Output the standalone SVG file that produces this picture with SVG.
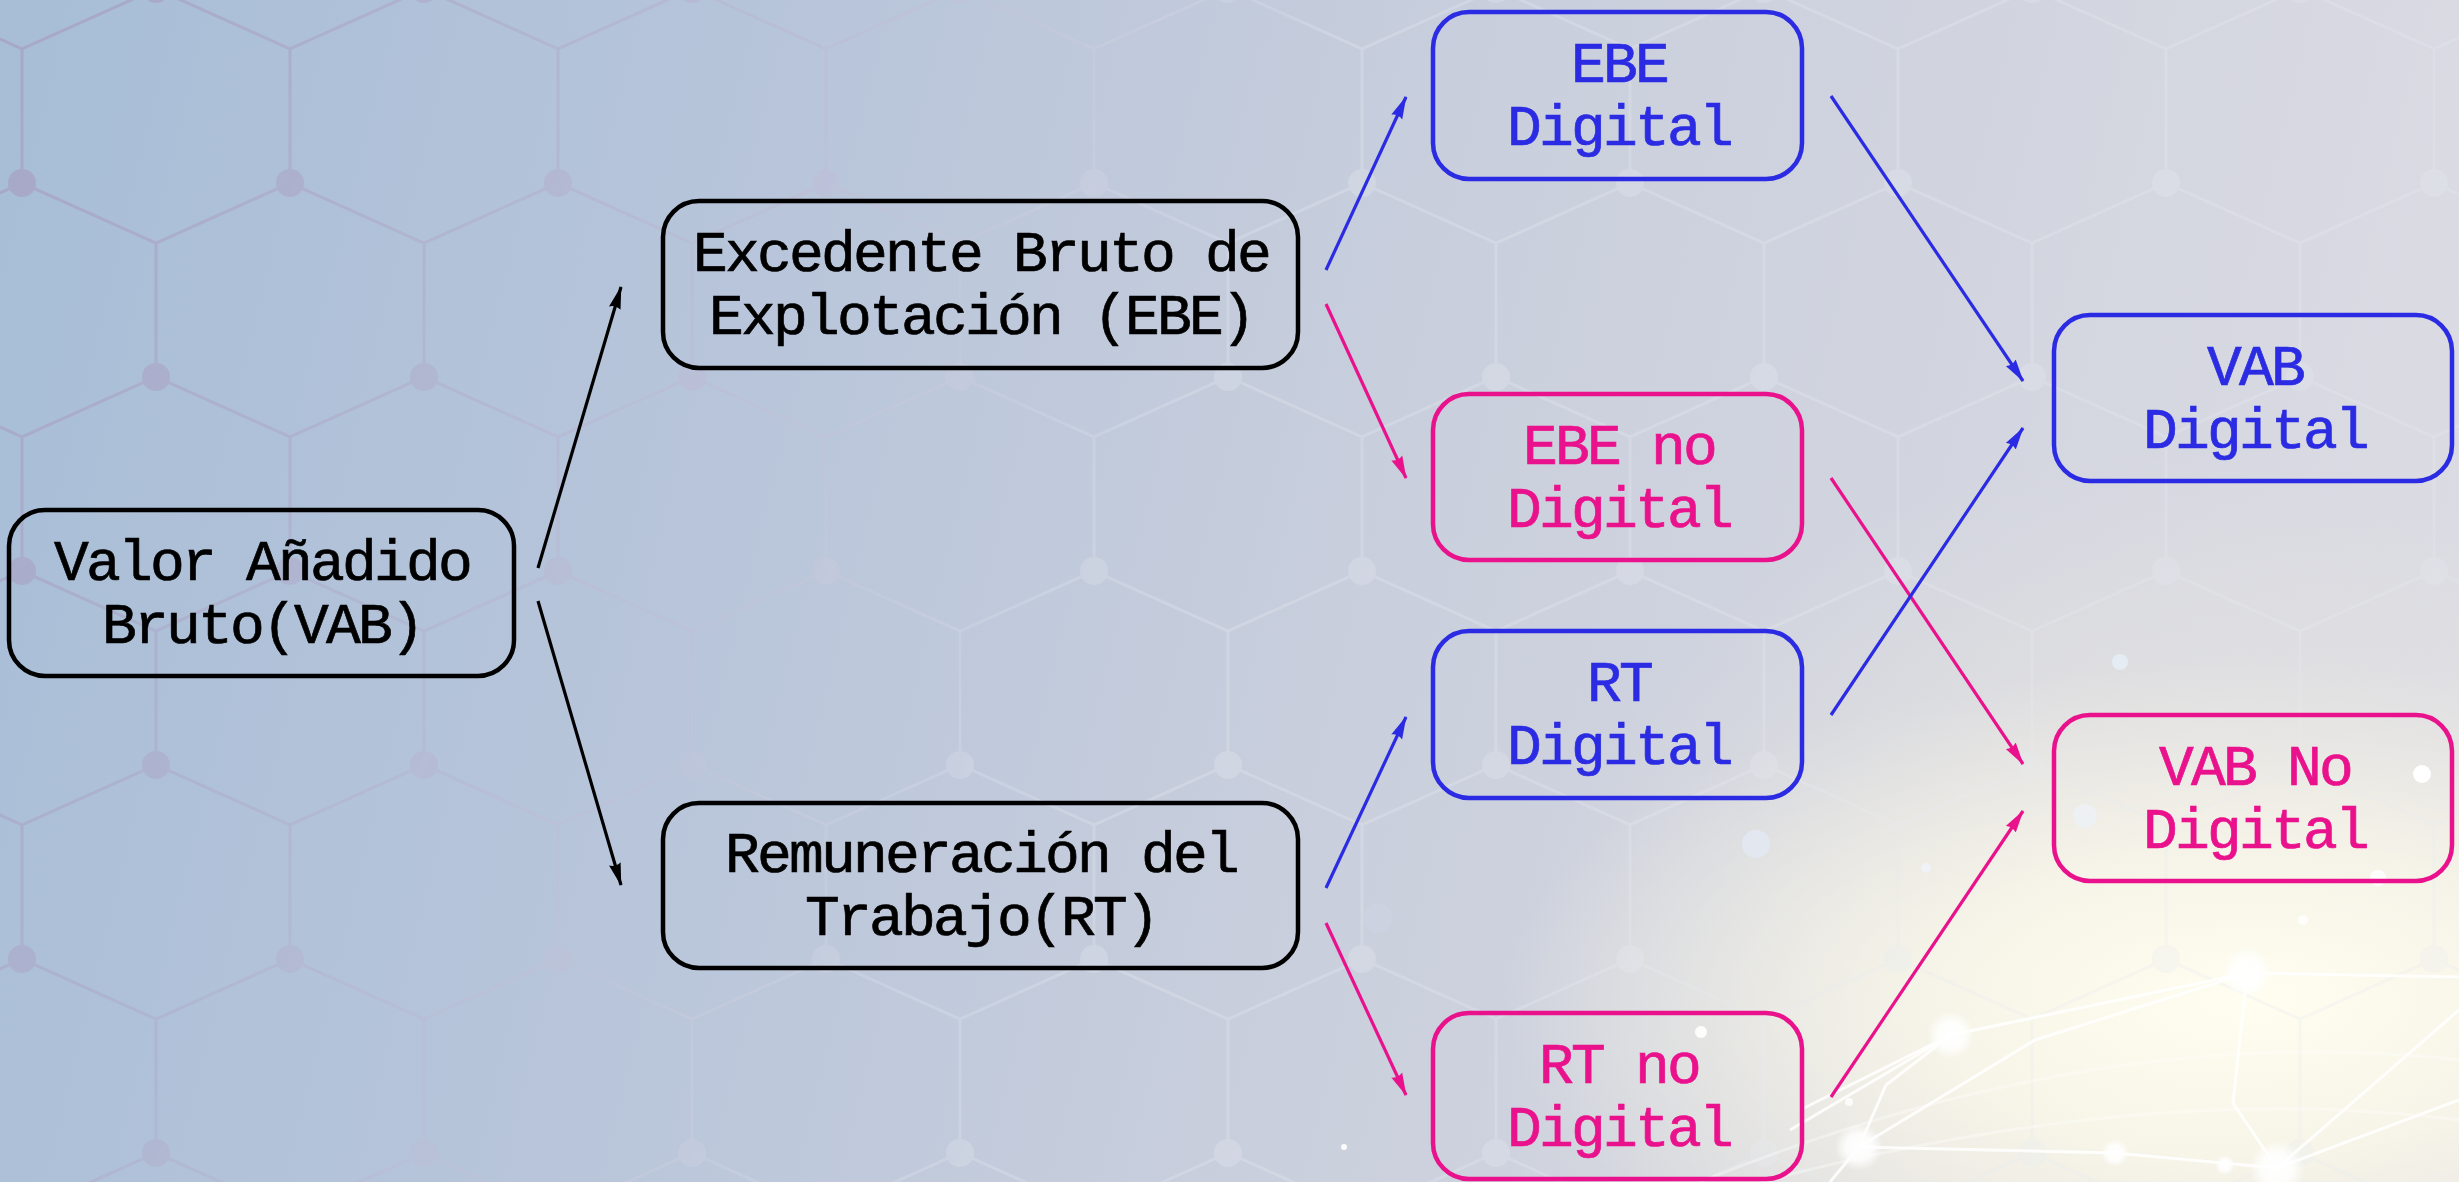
<svg xmlns="http://www.w3.org/2000/svg" width="2459" height="1182" viewBox="0 0 2459 1182">
<defs>
  <linearGradient id="bg" gradientUnits="userSpaceOnUse" x1="0" y1="200" x2="2459" y2="800">
    <stop offset="0" stop-color="#a8bed7"/>
    <stop offset="0.3" stop-color="#b8c5da"/>
    <stop offset="0.6" stop-color="#cbd0dd"/>
    <stop offset="1" stop-color="#dcdce3"/>
  </linearGradient>
  <radialGradient id="glow" gradientUnits="userSpaceOnUse" cx="2250" cy="1000" r="750" gradientTransform="translate(2250 1000) scale(1 0.45) translate(-2250 -1000)">
    <stop offset="0" stop-color="#fffef0" stop-opacity="1"/>
    <stop offset="0.45" stop-color="#fbf9ea" stop-opacity="0.75"/>
    <stop offset="1" stop-color="#f0eee6" stop-opacity="0"/>
  </radialGradient>
  <radialGradient id="glow2" gradientUnits="userSpaceOnUse" cx="2150" cy="1100" r="650">
    <stop offset="0" stop-color="#f4f0e4" stop-opacity="0.85"/>
    <stop offset="1" stop-color="#f2ede0" stop-opacity="0"/>
  </radialGradient>
  <radialGradient id="dotg">
    <stop offset="0" stop-color="#ffffff" stop-opacity="1"/>
    <stop offset="0.55" stop-color="#ffffff" stop-opacity="0.85"/>
    <stop offset="1" stop-color="#ffffff" stop-opacity="0"/>
  </radialGradient>
  <pattern id="hexP" patternUnits="userSpaceOnUse" x="22" y="183" width="268" height="388">
    <g fill="none" stroke="#a697bd" stroke-width="3">
      <path d="M134,194 V60 M0,0 L134,60 L268,0 M0,388 V254 M268,388 V254 M0,254 L134,194 L268,254"/>
    </g>
    <g fill="#a697bd">
      <circle cx="0" cy="0" r="14"/><circle cx="268" cy="0" r="14"/><circle cx="134" cy="194" r="14"/>
      <circle cx="0" cy="388" r="14"/><circle cx="268" cy="388" r="14"/>
    </g>
  </pattern>
  <pattern id="hexW" patternUnits="userSpaceOnUse" x="22" y="183" width="268" height="388">
    <g fill="none" stroke="#e6eaf2" stroke-width="3">
      <path d="M134,194 V60 M0,0 L134,60 L268,0 M0,388 V254 M268,388 V254 M0,254 L134,194 L268,254"/>
    </g>
    <g fill="#e6eaf2">
      <circle cx="0" cy="0" r="14"/><circle cx="268" cy="0" r="14"/><circle cx="134" cy="194" r="14"/>
      <circle cx="0" cy="388" r="14"/><circle cx="268" cy="388" r="14"/>
    </g>
  </pattern>
  <linearGradient id="mP" gradientUnits="userSpaceOnUse" x1="0" y1="0" x2="1100" y2="500">
    <stop offset="0" stop-color="#fff" stop-opacity="0.6"/>
    <stop offset="1" stop-color="#fff" stop-opacity="0"/>
  </linearGradient>
  <linearGradient id="mW" gradientUnits="userSpaceOnUse" x1="200" y1="0" x2="1300" y2="300">
    <stop offset="0" stop-color="#fff" stop-opacity="0.04"/>
    <stop offset="1" stop-color="#fff" stop-opacity="0.3"/>
  </linearGradient>
  <mask id="maskP"><rect width="2459" height="1182" fill="url(#mP)"/></mask>
  <mask id="maskW"><rect width="2459" height="1182" fill="url(#mW)"/></mask>
  <marker id="arK" viewBox="0 0 23 13" refX="22" refY="6.5" markerWidth="23" markerHeight="13" markerUnits="userSpaceOnUse" orient="auto">
    <path d="M0,0.5 L23,6.5 L0,12.5 Q3.5,6.5 0,0.5 z" fill="#000"/>
  </marker>
  <marker id="arB" viewBox="0 0 23 13" refX="22" refY="6.5" markerWidth="23" markerHeight="13" markerUnits="userSpaceOnUse" orient="auto">
    <path d="M0,0.5 L23,6.5 L0,12.5 Q3.5,6.5 0,0.5 z" fill="#2b2be3"/>
  </marker>
  <marker id="arP" viewBox="0 0 23 13" refX="22" refY="6.5" markerWidth="23" markerHeight="13" markerUnits="userSpaceOnUse" orient="auto">
    <path d="M0,0.5 L23,6.5 L0,12.5 Q3.5,6.5 0,0.5 z" fill="#ea128c"/>
  </marker>
  <style>
    .box{fill:none;stroke-width:4.5}
    .k{stroke:#000}
    .b{stroke:#2b2be3}
    .p{stroke:#ea128c}
    .t{font-family:"Liberation Mono","DejaVu Sans Mono",monospace;font-size:58px;letter-spacing:-2.8px;text-anchor:middle;stroke-width:0.7}
    .tk{fill:#000;stroke:#000}
    .tb{fill:#2b2be3;stroke:#2b2be3}
    .tp{fill:#ea128c;stroke:#ea128c}
    .c{fill:none;stroke-width:3.2}
    .net{fill:none;stroke:#ffffff;stroke-width:3;stroke-opacity:0.85}
  </style>
</defs>

<!-- background -->
<g id="background">
  <rect width="2459" height="1182" fill="url(#bg)"/>
  <rect width="2459" height="1182" fill="url(#glow2)"/>
  <rect width="2459" height="1182" fill="url(#glow)"/>
  <rect width="2459" height="1182" fill="url(#hexW)" mask="url(#maskW)"/>
  <rect width="2459" height="1182" fill="url(#hexP)" mask="url(#maskP)"/>
  <g opacity="0.35" fill="none" stroke="#ffffff" stroke-width="3">
    <path d="M1700,1182 Q2100,1020 2459,1060"/>
    <path d="M1760,1182 Q2150,1080 2459,1120"/>
  </g>
  <g class="net">
    <path d="M1800,1110 L1951,1035 L2247,973 L2459,977"/>
    <path d="M1951,1035 L1886,1085 L1859,1147 L2115,1153 L2277,1168"/>
    <path d="M1859,1147 L2035,1040 L2247,973 L2233,1103 L2277,1168"/>
    <path d="M2277,1168 L2459,1010 M2277,1168 L2459,1100"/>
    <path d="M1859,1147 L1830,1182 M1951,1035 L1790,1130"/>
  </g>
  <g>
    <circle cx="2247" cy="973" r="26" fill="url(#dotg)"/>
    <circle cx="1951" cy="1035" r="24" fill="url(#dotg)"/>
    <circle cx="1859" cy="1147" r="24" fill="url(#dotg)"/>
    <circle cx="2115" cy="1153" r="14" fill="url(#dotg)"/>
    <circle cx="2277" cy="1168" r="28" fill="url(#dotg)"/>
    <circle cx="2225" cy="1165" r="10" fill="url(#dotg)"/>
    <circle cx="1756" cy="844" r="14" fill="#e2e9f4" opacity="0.8"/>
    <circle cx="2120" cy="662" r="8" fill="#e8eef6" opacity="0.85"/>
    <circle cx="2422" cy="774" r="9" fill="#ffffff"/>
    <circle cx="2085" cy="816" r="12" fill="#eef1f6" opacity="0.8"/>
    <circle cx="1926" cy="868" r="5" fill="#eef2f8" opacity="0.9"/>
    <circle cx="2303" cy="920" r="5" fill="#ffffff" opacity="0.8"/>
    <circle cx="2378" cy="878" r="8" fill="#ffffff" opacity="0.85"/>
    <circle cx="1378" cy="918" r="15" fill="#cfd4e6" opacity="0.5"/>
    <circle cx="1701" cy="1032" r="6" fill="#ffffff" opacity="0.9"/>
    <circle cx="1344" cy="1147" r="3" fill="#ffffff" opacity="0.9"/>
    <circle cx="1849" cy="1102" r="4" fill="#ffffff" opacity="0.8"/>
  </g>
</g>

<!-- connectors -->
<g id="connectors">
  <line class="c k" x1="538" y1="568" x2="621" y2="287" marker-end="url(#arK)"/>
  <line class="c k" x1="538" y1="601" x2="621" y2="885" marker-end="url(#arK)"/>
  <line class="c b" x1="1326" y1="270" x2="1406" y2="97" marker-end="url(#arB)"/>
  <line class="c p" x1="1326" y1="304" x2="1406" y2="478" marker-end="url(#arP)"/>
  <line class="c b" x1="1326" y1="888" x2="1406" y2="717" marker-end="url(#arB)"/>
  <line class="c p" x1="1326" y1="923" x2="1406" y2="1095" marker-end="url(#arP)"/>
  <line class="c b" x1="1831" y1="96" x2="2023" y2="381" marker-end="url(#arB)"/>
  <line class="c p" x1="1831" y1="478" x2="2023" y2="764" marker-end="url(#arP)"/>
  <line class="c b" x1="1831" y1="715" x2="2023" y2="428" marker-end="url(#arB)"/>
  <line class="c p" x1="1831" y1="1097" x2="2023" y2="811" marker-end="url(#arP)"/>
</g>

<!-- nodes -->
<g id="vab">
  <rect class="box k" x="9" y="510" width="505" height="166" rx="36"/>
  <text class="t tk" x="262" y="580">Valor Añadido</text>
  <text class="t tk" x="262" y="643">Bruto(VAB)</text>
</g>
<g id="ebe">
  <rect class="box k" x="663" y="201" width="635" height="167" rx="36"/>
  <text class="t tk" x="981" y="271">Excedente Bruto de</text>
  <text class="t tk" x="981" y="334">Explotación (EBE)</text>
</g>
<g id="rt">
  <rect class="box k" x="663" y="803" width="635" height="165" rx="36"/>
  <text class="t tk" x="981" y="872">Remuneración del</text>
  <text class="t tk" x="981" y="935">Trabajo(RT)</text>
</g>
<g id="ebe-digital">
  <rect class="box b" x="1433" y="12" width="369" height="167" rx="36"/>
  <text class="t tb" x="1619" y="82">EBE</text>
  <text class="t tb" x="1619" y="145">Digital</text>
</g>
<g id="ebe-no-digital">
  <rect class="box p" x="1433" y="394" width="369" height="166" rx="36"/>
  <text class="t tp" x="1619" y="464">EBE no</text>
  <text class="t tp" x="1619" y="527">Digital</text>
</g>
<g id="rt-digital">
  <rect class="box b" x="1433" y="631" width="369" height="167" rx="36"/>
  <text class="t tb" x="1619" y="701">RT</text>
  <text class="t tb" x="1619" y="764">Digital</text>
</g>
<g id="rt-no-digital">
  <rect class="box p" x="1433" y="1013" width="369" height="166" rx="36"/>
  <text class="t tp" x="1619" y="1083">RT no</text>
  <text class="t tp" x="1619" y="1146">Digital</text>
</g>
<g id="vab-digital">
  <rect class="box b" x="2054" y="315" width="398" height="166" rx="36"/>
  <text class="t tb" x="2255" y="385">VAB</text>
  <text class="t tb" x="2255" y="448">Digital</text>
</g>
<g id="vab-no-digital">
  <rect class="box p" x="2054" y="715" width="398" height="166" rx="36"/>
  <text class="t tp" x="2255" y="785">VAB No</text>
  <text class="t tp" x="2255" y="848">Digital</text>
</g>
</svg>
